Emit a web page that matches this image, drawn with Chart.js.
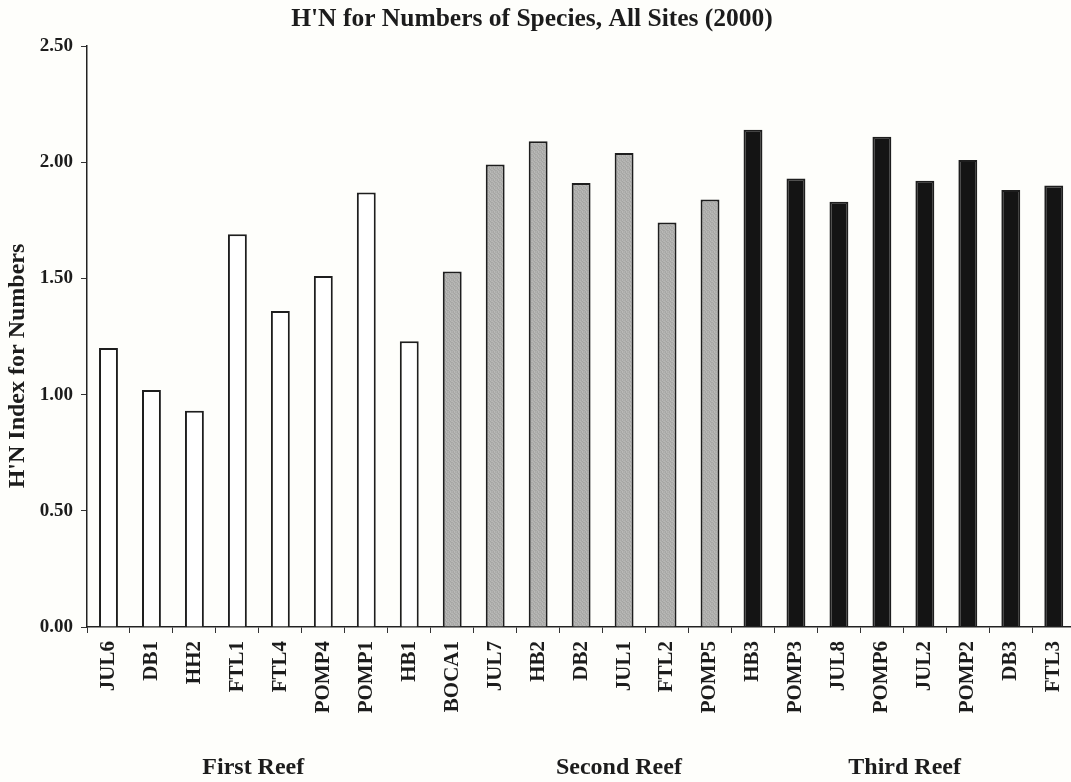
<!DOCTYPE html>
<html>
<head>
<meta charset="utf-8">
<script src="https://cdn.jsdelivr.net/npm/chart.js@4.4.1/dist/chart.umd.min.js"></script>
<style>
  html, body { margin: 0; padding: 0; background: #fefefb; overflow: hidden; }
  #wrap { width: 1071px; height: 782px; overflow: hidden; }
  canvas { display: block; }
</style>
</head>
<body>
<div id="wrap"><canvas id="chart" width="1087" height="782"></canvas></div>
<script>
// Sampling sites, in plotted order
const sites = ['JUL6','DB1','HH2','FTL1','FTL4','POMP4','POMP1','HB1',
               'BOCA1','JUL7','HB2','DB2','JUL1','FTL2','POMP5',
               'HB3','POMP3','JUL8','POMP6','JUL2','POMP2','DB3','FTL3'];
// Reef each site belongs to (0 = first, 1 = second, 2 = third)
const reefOfSite = [0,0,0,0,0,0,0,0, 1,1,1,1,1,1,1, 2,2,2,2,2,2,2,2];
// H'N index for numbers
const hnValues = [1.20, 1.02, 0.93, 1.69, 1.36, 1.51, 1.87, 1.23,
                  1.53, 1.99, 2.09, 1.91, 2.04, 1.74, 1.84,
                  2.14, 1.93, 1.83, 2.11, 1.92, 2.01, 1.88, 1.90];
const reefNames = ['First Reef', 'Second Reef', 'Third Reef'];
const yTicks = [0, 0.5, 1.0, 1.5, 2.0, 2.5];

const SERIF = "'Liberation Serif', 'DejaVu Serif', serif";
const INK = '#1c1c1c';

// Stippled grey fill for the second-reef bars
function stipple() {
  const c = document.createElement('canvas');
  c.width = 4; c.height = 4;
  const g = c.getContext('2d');
  const shades = ['#b0b0ae','#a6a6a4','#b9b9b7','#acacaa',
                  '#b8b8b6','#aeaeac','#a4a4a2','#b5b5b3',
                  '#a9a9a7','#b7b7b5','#afafad','#a5a5a3',
                  '#b3b3b1','#a7a7a5','#babab8','#adadab'];
  shades.forEach((s, i) => { g.fillStyle = s; g.fillRect(i % 4, Math.floor(i / 4), 1, 1); });
  return document.getElementById('chart').getContext('2d').createPattern(c, 'repeat');
}
const reefFill = ['#ffffff', stipple(), '#141414'];

const pageBackground = {
  id: 'pageBackground',
  beforeDraw(chart) {
    const ctx = chart.ctx;
    ctx.save();
    ctx.fillStyle = '#fefefb';
    ctx.fillRect(0, 0, chart.width, chart.height);
    ctx.restore();
  }
};

// Heading, reef names under the site labels, and the vertical axis caption
const sideTexts = {
  id: 'sideTexts',
  afterDraw(chart, args, opts) {
    const ctx = chart.ctx;
    const x = chart.scales.x;
    ctx.save();
    ctx.fillStyle = INK;
    ctx.textAlign = 'center';
    ctx.textBaseline = 'middle';
    ctx.font = 'bold 25.5px ' + SERIF;
    ctx.fillText(opts.heading, opts.headingX, opts.headingY);
    ctx.font = 'bold 24px ' + SERIF;
    reefNames.forEach((name, i) => {
      ctx.fillText(name, x.getPixelForValue(opts.at[i]), opts.y);
    });
    ctx.translate(opts.captionX, opts.captionY);
    ctx.rotate(-Math.PI / 2);
    ctx.fillText(opts.caption, 0, 0);
    ctx.restore();
  }
};

new Chart(document.getElementById('chart'), {
  type: 'bar',
  data: {
    labels: sites,
    datasets: [{
      data: hnValues,
      backgroundColor: reefOfSite.map(r => reefFill[r]),
      borderColor: '#1e1e1e',
      borderWidth: 2,
      borderSkipped: 'bottom',
      barPercentage: 0.44,
      categoryPercentage: 1.0
    }]
  },
  options: {
    responsive: false,
    animation: false,
    devicePixelRatio: 1,
    layout: { padding: { left: 0, right: 2, top: 46, bottom: 0 } },
    plugins: {
      legend: { display: false },
      tooltip: { enabled: false },
      title: { display: false },
      sideTexts: {
        heading: "H'N for Numbers of Species, All Sites (2000)", headingX: 532, headingY: 19,
        at: [3.37, 11.88, 18.53], y: 768,
        caption: "H'N Index for Numbers", captionX: 18, captionY: 366
      }
    },
    scales: {
      x: {
        offset: true,
        grid: { offset: true, drawOnChartArea: false, drawTicks: true, tickLength: 6, color: '#333', lineWidth: 1 },
        border: { display: true, color: '#222', width: 1.5 },
        ticks: {
          autoSkip: false,
          minRotation: 90,
          maxRotation: 90,
          padding: 8,
          color: INK,
          font: { family: SERIF, size: 21, weight: 'bold' }
        },
        afterFit(scale) { scale.height = 155; }
      },
      y: {
        min: 0,
        max: 2.5,
        afterBuildTicks(scale) { scale.ticks = yTicks.map(v => ({ value: v })); },
        grid: { drawOnChartArea: false, drawTicks: true, tickLength: 6, color: '#333', lineWidth: 1 },
        border: { display: true, color: '#222', width: 1.5 },
        ticks: {
          padding: 8,
          color: INK,
          font: { family: SERIF, size: 19, weight: 'bold' },
          callback: v => Number(v).toFixed(2)
        },
        afterFit(scale) { scale.width = 87; }
      }
    }
  },
  plugins: [pageBackground, sideTexts]
});
</script>
</body>
</html>
